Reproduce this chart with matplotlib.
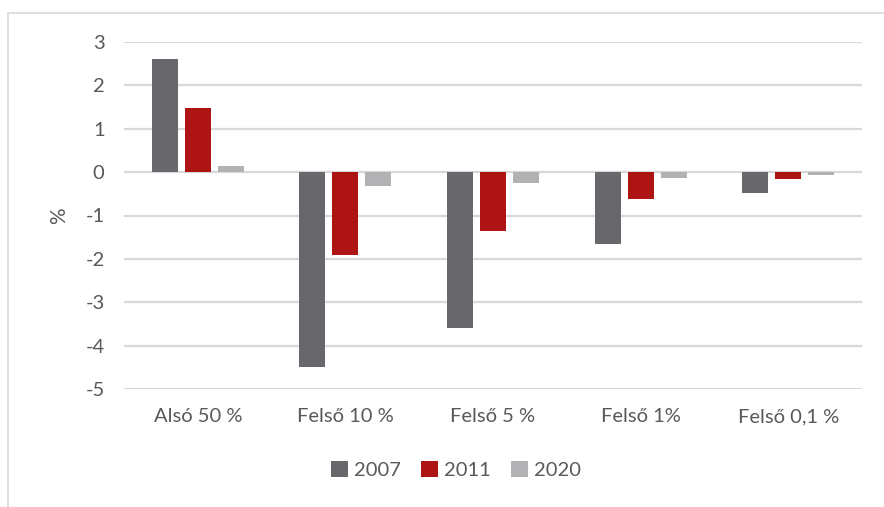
import matplotlib
matplotlib.use("Agg")
import matplotlib.pyplot as plt
import numpy as np
from matplotlib.lines import Line2D

categories = ["Alsó 50 %", "Felső 10 %", "Felső 5 %", "Felső 1%", "Felső 0,1 %"]
years = ["2007", "2011", "2020"]
v2007 = [2.6, -4.5, -3.6, -1.65, -0.47]
v2011 = [1.48, -1.9, -1.35, -0.62, -0.17]
v2020 = [0.14, -0.31, -0.24, -0.14, -0.07]
colors = ["#68676C", "#AE1414", "#B2B2B5"]

plt.rcParams['font.family'] = ['Lato', 'DejaVu Sans']
fig = plt.figure(figsize=(8.84, 5.07), dpi=100)
ax = fig.add_axes([124/884, 1-389/507, (862-124)/884, (389-42)/507])

x = np.arange(len(categories))
w = 0.176
off = 0.224
for i, (vals, c) in enumerate(zip([v2007, v2011, v2020], colors)):
    ax.bar(x + (i-1)*off, vals, width=w, color=c, label=years[i], zorder=3)

ax.set_xlim(-0.5, len(categories)-0.5)
ax.set_ylim(-5, 3)
ax.set_yticks(range(-5, 4))
ax.set_yticklabels([str(v) for v in range(-5, 4)])
ax.yaxis.grid(True, color="#D9D9D9", linewidth=1.6, zorder=0)
ax.set_xticks(x)
ax.set_xticklabels(categories)
for s in ax.spines.values():
    s.set_visible(False)
ax.tick_params(axis='both', length=0, labelsize=14.5, colors="#595959", pad=14)
ax.tick_params(axis='x', pad=14)
ax.set_ylabel("%", fontsize=15, color="#595959", labelpad=12)

leg = fig.legend(loc='center', bbox_to_anchor=(456/884, 1-470/507), ncol=3, frameon=False,
                 fontsize=14.5, handlelength=0.85, handleheight=0.85, handletextpad=0.3,
                 columnspacing=1.0, labelcolor="#595959")

# outer border (top and left only visible)
fig.add_artist(Line2D([8/884, 1], [1-13/507, 1-13/507], transform=fig.transFigure, color="#D9D9D9", linewidth=1.2))
fig.add_artist(Line2D([8/884, 8/884], [0, 1-13/507], transform=fig.transFigure, color="#D9D9D9", linewidth=1.2))

fig.savefig("out.png", dpi=100, facecolor="white")
